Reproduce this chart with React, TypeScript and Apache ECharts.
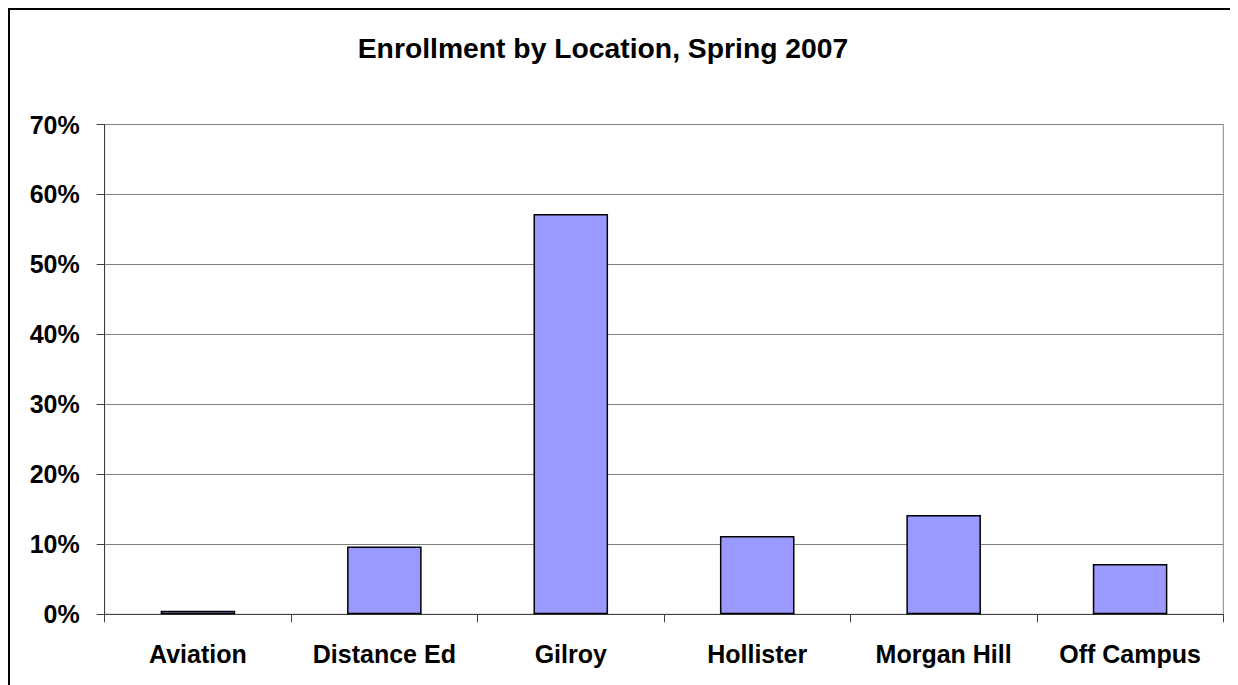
import React, { useEffect, useRef } from "react";
import * as echarts from "echarts";

const categories = ["Aviation", "Distance Ed", "Gilroy", "Hollister", "Morgan Hill", "Off Campus"];
const values = [0.5, 9.7, 57.2, 11.2, 14.2, 7.2];
const yTicks = [0, 10, 20, 30, 40, 50, 60, 70];
const titleText = "Enrollment by Location, Spring 2007";

const FONT = "'Liberation Sans', Arial, sans-serif";

export default function App() {
  const ref = useRef<HTMLDivElement>(null);
  useEffect(() => {
    document.documentElement.style.overflow = "hidden";
    document.body.style.overflow = "hidden";
    const chart = echarts.init(ref.current!, null, { renderer: "svg" });
    chart.setOption({
      animation: false,
      backgroundColor: "#ffffff",
      title: {
        text: titleText,
        left: 588,
        top: 19,
        textAlign: "center",
        textStyle: { fontFamily: FONT, fontSize: 28.3, fontWeight: "bold", color: "#000" },
      },
      grid: {
        left: 94.7,
        right: 11.7,
        top: 114.5,
        bottom: 91.7,
        show: true,
        borderColor: "#888",
        borderWidth: 1,
        backgroundColor: "transparent",
      },
      xAxis: {
        type: "category",
        data: categories,
        axisLine: { show: true, lineStyle: { color: "#404040", width: 1 } },
        axisTick: { show: true, alignWithLabel: false, length: 8, lineStyle: { color: "#404040" } },
        axisLabel: {
          margin: 27,
          fontFamily: FONT,
          fontSize: 25,
          fontWeight: "bold",
          color: "#000",
          interval: 0,
        },
      },
      yAxis: {
        type: "value",
        min: yTicks[0],
        max: yTicks[yTicks.length - 1],
        interval: 10,
        axisLine: { show: true, lineStyle: { color: "#404040", width: 1 } },
        axisTick: { show: true, length: 8, lineStyle: { color: "#404040" } },
        splitLine: { show: true, lineStyle: { color: "#808080", width: 1 } },
        axisLabel: {
          margin: 25,
          fontFamily: FONT,
          fontSize: 25,
          fontWeight: "bold",
          color: "#000",
          formatter: (v: number) => `${v}%`,
        },
      },
      series: [
        {
          type: "bar",
          data: values,
          barWidth: "40%",
          itemStyle: { color: "#9999FF", borderColor: "#000", borderWidth: 1.5 },
        },
      ],
    });
    return () => chart.dispose();
  }, []);
  return (
    <div
      ref={ref}
      style={{ width: 1229, height: 700, border: "2px solid #000", boxSizing: "border-box" }}
    />
  );
}
